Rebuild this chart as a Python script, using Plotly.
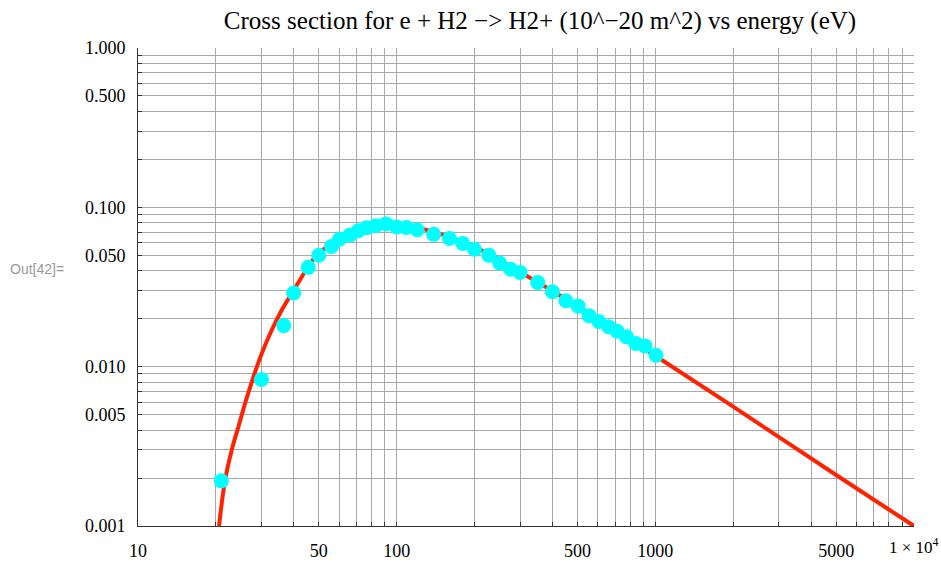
import plotly.graph_objects as go

# Measured cross-section data points (energy eV, cross section 1e-20 m^2)
data_energy = [21, 30, 36.6, 40, 45.5, 50, 56, 60, 66, 71, 76.5, 83, 91, 100, 109, 120,
               139, 160, 180, 200, 227, 250, 276, 300, 351, 400, 451, 503, 554, 605,
               660, 712, 773, 840, 912, 1006]
data_sigma = [0.00192, 0.0083, 0.0181, 0.0290, 0.0420, 0.0500, 0.0568, 0.0630, 0.0670,
              0.0713, 0.0745, 0.0767, 0.0787, 0.0752, 0.0748, 0.0724, 0.0677, 0.0637,
              0.0594, 0.0546, 0.0501, 0.0447, 0.0409, 0.0390, 0.0337, 0.0295, 0.0259,
              0.0240, 0.0209, 0.0192, 0.0178, 0.0167, 0.0154, 0.0140, 0.0135, 0.0118]

# Fitted curve
fit_energy = [20.57, 21.71, 23.04, 24.45, 25.94, 27.95, 30.1, 32.9, 35.96, 39.3, 43.0,
              46.3, 50, 60, 70, 80, 90, 100, 120, 150, 200, 300, 500, 700, 1000, 2000,
              5000, 10000]
fit_sigma = [0.001, 0.00194, 0.0030, 0.0042, 0.00588, 0.00864, 0.01212, 0.01698, 0.02266,
             0.02884, 0.03667, 0.0445, 0.0515, 0.0630, 0.0705, 0.0750, 0.0770, 0.0770,
             0.0745, 0.0675, 0.0565, 0.0393, 0.0240, 0.0169, 0.0117, 0.00561, 0.00209,
             0.001]

x_label_vals = {10: "10", 50: "50", 100: "100", 500: "500", 1000: "1000", 5000: "5000"}
y_label_vals = {0.001: "0.001", 0.005: "0.005", 0.01: "0.010", 0.05: "0.050",
                0.1: "0.100", 0.5: "0.500", 1.0: "1.000"}
x_last_label = "1 × 10<sup>4</sup>"

x_grid = [m * 10 ** k for k in range(1, 4) for m in range(1, 10)] + [10000]
y_grid = [round(m * 10.0 ** k, 6) for k in range(-3, 0) for m in range(1, 10)] + [1.0]

x_text = [x_label_vals.get(v, "") for v in x_grid]
y_text = [y_label_vals.get(v, "") for v in y_grid]

W, H = 941, 562
ML, MR, MT, MB = 138, 27, 48, 36
PW, PH = W - ML - MR, H - MT - MB

fig = go.Figure()
fig.add_trace(go.Scatter(x=fit_energy, y=fit_sigma, mode="lines",
                         line=dict(color="#ff2200", width=4, shape="spline", smoothing=1.0),
                         showlegend=False, hoverinfo="skip"))
fig.add_trace(go.Scatter(x=data_energy, y=data_sigma, mode="markers",
                         marker=dict(color="#00ffff", size=15, line=dict(width=0)),
                         showlegend=False))

serif = "Liberation Serif, Times New Roman, serif"
fig.update_layout(
    width=W, height=H,
    margin=dict(l=ML, r=MR, t=MT, b=MB, autoexpand=False),
    paper_bgcolor="white", plot_bgcolor="white",
    title=dict(text="Cross section for e + H2 −> H2+ (10^−20 m^2) vs energy (eV)",
               x=540 / W, xanchor="center", y=1 - 20 / H, yanchor="middle",
               font=dict(family=serif, size=25, color="black")),
    xaxis=dict(type="log", range=[1, 4], tickmode="array", tickvals=x_grid, ticktext=x_text,
               automargin=False,
               showgrid=True, gridcolor="#a8a8a8", gridwidth=1,
               showline=True, linecolor="#333333", linewidth=1,
               ticks="inside", ticklen=4, tickcolor="#333333",
               ticklabelstandoff=8,
               tickfont=dict(family=serif, size=18, color="black"), zeroline=False),
    yaxis=dict(type="log", range=[-3, 0], tickmode="array", tickvals=y_grid, ticktext=y_text,
               automargin=False,
               showgrid=True, gridcolor="#a8a8a8", gridwidth=1,
               showline=True, linecolor="#333333", linewidth=1,
               ticks="inside", ticklen=4, tickcolor="#333333",
               ticklabelstandoff=8,
               tickfont=dict(family=serif, size=18, color="black"), zeroline=False),
    annotations=[
        dict(text="Out[42]=", xref="paper", yref="paper",
             x=(8 - ML) / PW, y=(H - MB - 269) / PH,
             xanchor="left", yanchor="middle", showarrow=False,
             font=dict(family="Liberation Sans, Arial, sans-serif", size=14, color="#999999")),
        dict(text=x_last_label, xref="x", yref="paper",
             x=4, y=(H - MB - 546) / PH,
             xanchor="center", yanchor="middle", showarrow=False,
             font=dict(family=serif, size=17, color="black")),
    ],
)

fig.write_html("out.html",
               config={"displayModeBar": False},
               post_script="document.body.style.margin='0';document.body.style.padding='0';"
                           "document.documentElement.style.margin='0';")
